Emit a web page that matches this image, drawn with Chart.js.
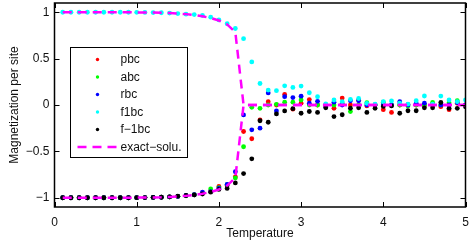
<!DOCTYPE html>
<html>
<head>
<meta charset="utf-8">
<script src="https://cdn.jsdelivr.net/npm/chart.js@4.4.1/dist/chart.umd.min.js"></script>
<style>
  html, body { margin: 0; padding: 0; background: #fff; }
  #wrap { width: 469px; height: 248px; }
</style>
</head>
<body>
<div id="wrap"><canvas id="chart" width="469" height="248"></canvas></div>
<script>
// Temperature grid (x values)
const temps = [
  0.1, 0.2, 0.3, 0.4, 0.5, 0.6, 0.7, 0.8, 0.9, 1.0,
  1.1, 1.2, 1.3, 1.4, 1.5, 1.6, 1.7, 1.8, 1.9, 2.0,
  2.1, 2.2, 2.3, 2.4, 2.5, 2.6, 2.7, 2.8, 2.9, 3.0,
  3.1, 3.2, 3.3, 3.4, 3.5, 3.6, 3.7, 3.8, 3.9, 4.0,
  4.1, 4.2, 4.3, 4.4, 4.5, 4.6, 4.7, 4.8, 4.9, 5.0
];

const pbc = [
  -1, -1, -1, -1, -1, -1, -1, -1, -1, -0.999,
  -0.998, -0.997, -0.995, -0.991, -0.986, -0.979, -0.969, -0.952, -0.93, -0.878,
  -0.87, -0.775, -0.286, -0.364, -0.16, 0.036, 0.0, 0.114, -0.045, 0.02,
  0.058, 0.0, -0.01, -0.036, 0.075, 0.0, 0.05, -0.01, 0.0, -0.05,
  -0.08, 0.0, 0.005, 0.0, -0.005, 0.0, -0.018, -0.05, 0.018, 0.0
];

const abc = [
  -1, -1, -1, -1, -1, -1, -1, -1, -1, -0.999,
  -0.998, -0.997, -0.995, -0.991, -0.985, -0.978, -0.968, -0.95, -0.905, -0.89,
  -0.86, -0.786, -0.45, -0.025, -0.036, 0.0, 0.007, 0.03, 0.03, 0.054,
  0.0, 0.0, 0.0, 0.0, 0.02, -0.071, 0.0, 0.025, 0.0, 0.03,
  0.0, 0.0, -0.01, 0.0, 0.0, 0.028, 0.0, 0.025, 0.046, -0.005
];

const rbc = [
  -1, -1, -1, -1, -1, -1, -1, -1, -1, -0.999,
  -0.998, -0.997, -0.995, -0.991, -0.986, -0.975, -0.968, -0.94, -0.935, -0.9,
  -0.857, -0.72, -0.107, -0.268, -0.25, 0.13, -0.064, 0.09, 0.08, 0.095,
  0.02, 0.04, -0.022, 0.03, 0.0, 0.045, 0.045, 0.0, 0.0, 0.0,
  0.0, 0.036, 0.0, 0.02, 0.02, 0.0, 0.0, 0.0, 0.025, 0.0
];

const f1bc = [
  1, 1, 1, 1, 1, 1, 1, 1, 1, 0.999,
  0.998, 0.997, 0.995, 0.991, 0.986, 0.98, 0.975, 0.965, 0.947, 0.918,
  0.876, 0.825, 0.715, 0.464, 0.232, 0.161, 0.154, 0.207, 0.19, 0.204,
  0.132, 0.089, 0.011, 0.054, 0.036, 0.06, 0.07, 0.018, 0.01, 0.035,
  0.043, 0.02, 0.01, 0.046, 0.097, 0.01, 0.096, 0.054, 0.036, 0.054
];

const fm1bc = [
  -1, -1, -1, -1, -1, -1, -1, -1, -1, -0.999,
  -0.998, -0.997, -0.995, -0.99, -0.983, -0.976, -0.97, -0.96, -0.94, -0.91,
  -0.9, -0.84, -0.74, -0.58, -0.17, -0.186, -0.096, -0.064, -0.04, -0.089,
  -0.07, -0.08, -0.03, -0.125, -0.105, -0.035, -0.03, -0.08, -0.035, -0.015,
  -0.01, -0.089, -0.062, -0.062, -0.03, -0.03, 0.027, -0.036, -0.036, -0.02
];

// exact solution, upper and lower branch
const exactUp = [
  1, 1, 1, 1, 1, 1, 1, 1, 1, 0.999,
  0.998, 0.997, 0.995, 0.991, 0.986, 0.98, 0.97, 0.957, 0.938, 0.911,
  0.869, 0.785, 0, 0, 0, 0, 0, 0, 0, 0,
  0, 0, 0, 0, 0, 0, 0, 0, 0, 0,
  0, 0, 0, 0, 0, 0, 0, 0, 0, 0
];
const exactDown = [
  -1, -1, -1, -1, -1, -1, -1, -1, -1, -0.999,
  -0.998, -0.997, -0.995, -0.991, -0.986, -0.98, -0.97, -0.957, -0.938, -0.911,
  -0.869, -0.785, 0, 0, 0, 0, 0, 0, 0, 0,
  0, 0, 0, 0, 0, 0, 0, 0, 0, 0,
  0, 0, 0, 0, 0, 0, 0, 0, 0, 0
];

const xTicks = [0, 1, 2, 3, 4, 5];
const yTicks = [-1, -0.5, 0, 0.5, 1];

const FONT = 'Liberation Sans, Arial, Helvetica, sans-serif';
const minus = v => String(v).replace('-', '\u2212');
const pts = arr => arr.map((y, i) => ({ x: temps[i], y: y }));

function dotSet(label, data, color, order) {
  return {
    label: label,
    data: pts(data),
    showLine: false,
    pointRadius: 2.4,
    pointHoverRadius: 2.4,
    pointBorderWidth: 0,
    pointBackgroundColor: color,
    pointBorderColor: color,
    backgroundColor: color,
    borderColor: color,
    order: order
  };
}

function lineSet(label, data, order, inLegend) {
  return {
    label: label,
    data: pts(data),
    showLine: true,
    borderColor: '#ff00ff',
    borderWidth: 2.5,
    borderDash: [9, 6],
    pointRadius: 0,
    fill: false,
    order: order,
    inLegend: inLegend
  };
}

// axes frame with inward ticks on all four sides
const framePlugin = {
  id: 'frame',
  afterDraw(chart) {
    const ctx = chart.ctx;
    const a = chart.chartArea;
    const xs = chart.scales.x, ys = chart.scales.y;
    const tl = 5;
    ctx.save();
    ctx.strokeStyle = '#000';
    ctx.lineWidth = 1.5;
    ctx.strokeRect(a.left, a.top, a.right - a.left, a.bottom - a.top);
    ctx.lineWidth = 1;
    ctx.beginPath();
    xTicks.forEach(v => {
      const px = Math.round(xs.getPixelForValue(v)) + 0.5;
      ctx.moveTo(px, a.bottom); ctx.lineTo(px, a.bottom - tl);
      ctx.moveTo(px, a.top); ctx.lineTo(px, a.top + tl);
    });
    yTicks.forEach(v => {
      const py = Math.round(ys.getPixelForValue(v)) + 0.5;
      ctx.moveTo(a.left, py); ctx.lineTo(a.left + tl, py);
      ctx.moveTo(a.right, py); ctx.lineTo(a.right - tl, py);
    });
    ctx.stroke();
    ctx.restore();
  }
};

// legend box inside the plot, MATLAB style
const legendPlugin = {
  id: 'insideLegend',
  afterDraw(chart) {
    const ctx = chart.ctx;
    const a = chart.chartArea;
    const bx = Math.round(a.left + 15) + 0.5, by = Math.round(a.top + 44) + 0.5;
    const bw = 117, bh = 110;
    ctx.save();
    ctx.fillStyle = '#fff';
    ctx.fillRect(bx, by, bw, bh);
    ctx.strokeStyle = '#000';
    ctx.lineWidth = 1;
    ctx.strokeRect(bx, by, bw, bh);
    ctx.font = '12px ' + FONT;
    ctx.textBaseline = 'middle';
    ctx.textAlign = 'left';
    const items = chart.data.datasets.filter(d => d.inLegend !== false);
    items.forEach((d, i) => {
      const cy = by + 12 + i * 17.5;
      if (d.showLine) {
        ctx.strokeStyle = d.borderColor;
        ctx.lineWidth = d.borderWidth;
        ctx.setLineDash(d.borderDash);
        ctx.beginPath();
        ctx.moveTo(bx + 7, cy);
        ctx.lineTo(bx + 46, cy);
        ctx.stroke();
        ctx.setLineDash([]);
      } else {
        ctx.fillStyle = d.pointBackgroundColor;
        ctx.beginPath();
        ctx.arc(bx + 27, cy, 1.7, 0, Math.PI * 2);
        ctx.fill();
      }
      ctx.fillStyle = '#111';
      ctx.fillText(d.label, bx + 50, cy + 0.5);
    });
    ctx.restore();
  }
};

const tickFont = { family: FONT, size: 12 };

new Chart(document.getElementById('chart'), {
  type: 'scatter',
  data: {
    datasets: [
      dotSet('pbc', pbc, '#ff0000', 6),
      dotSet('abc', abc, '#00ff00', 5),
      dotSet('rbc', rbc, '#0000ff', 4),
      dotSet('f1bc', f1bc, '#00ffff', 3),
      dotSet('f\u22121bc', fm1bc, '#000000', 2),
      lineSet('exact\u2212solu.', exactUp, 1, true),
      lineSet('exact\u2212solu.', exactDown, 0, false)
    ]
  },
  options: {
    responsive: false,
    animation: false,
    events: [],
    layout: { padding: { top: 3, right: 3.5, left: 0, bottom: 0 } },
    plugins: {
      legend: { display: false },
      tooltip: { enabled: false }
    },
    scales: {
      x: {
        type: 'linear',
        min: 0,
        max: 5,
        grid: { display: false, drawTicks: false },
        border: { display: false },
        afterBuildTicks: s => { s.ticks = xTicks.map(v => ({ value: v })); },
        afterFit: s => { s.height = 41; s.paddingLeft = 0; s.paddingRight = 0; },
        ticks: {
          padding: 8,
          color: '#111',
          font: tickFont,
          maxRotation: 0,
          callback: v => minus(v)
        },
        title: {
          display: true,
          text: 'Temperature',
          color: '#111',
          font: tickFont,
          padding: { top: 0, bottom: 7 }
        }
      },
      y: {
        type: 'linear',
        min: -1.1,
        max: 1.1,
        grid: { display: false, drawTicks: false },
        border: { display: false },
        afterBuildTicks: s => { s.ticks = yTicks.map(v => ({ value: v })); },
        afterFit: s => { s.width = 54.5; s.paddingTop = 0; s.paddingBottom = 0; },
        ticks: {
          padding: 5,
          color: '#111',
          font: tickFont,
          callback: v => minus(v)
        },
        title: {
          display: true,
          text: 'Magnetization per site',
          color: '#111',
          font: tickFont,
          padding: { top: 7, bottom: 0 }
        }
      }
    }
  },
  plugins: [framePlugin, legendPlugin]
});
</script>
</body>
</html>
